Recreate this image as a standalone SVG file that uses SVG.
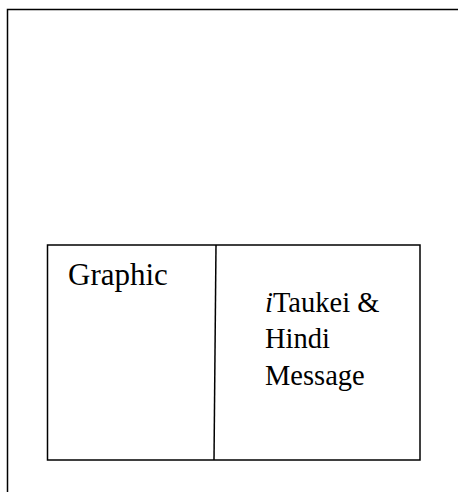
<svg xmlns="http://www.w3.org/2000/svg" width="458" height="492" viewBox="0 0 458 492">
<style>
.ln{fill:none;stroke:#000;stroke-width:1.5}
.t{font-family:"Liberation Serif","Times New Roman",serif;fill:#000}
</style>
<rect width="458" height="492" fill="#fff"/>
<g id="frame">
<path class="ln" d="M7.5,492 V9.5 H458"/>
</g>
<g id="panel">
<rect class="ln" x="47.5" y="245" width="372.5" height="215"/>
</g>
<g id="connectors">
<line class="ln" x1="216" y1="245" x2="214" y2="460"/>
</g>
<g id="graphic">
<text class="t" x="68" y="285" font-size="31">Graphic</text>
</g>
<g id="message">
<text class="t" x="265" y="312" font-size="28.5"><tspan font-style="italic">i</tspan>Taukei &amp;</text>
<text class="t" x="265" y="348" font-size="28.5">Hindi</text>
<text class="t" x="265" y="385" font-size="28.5">Message</text>
</g>
</svg>
